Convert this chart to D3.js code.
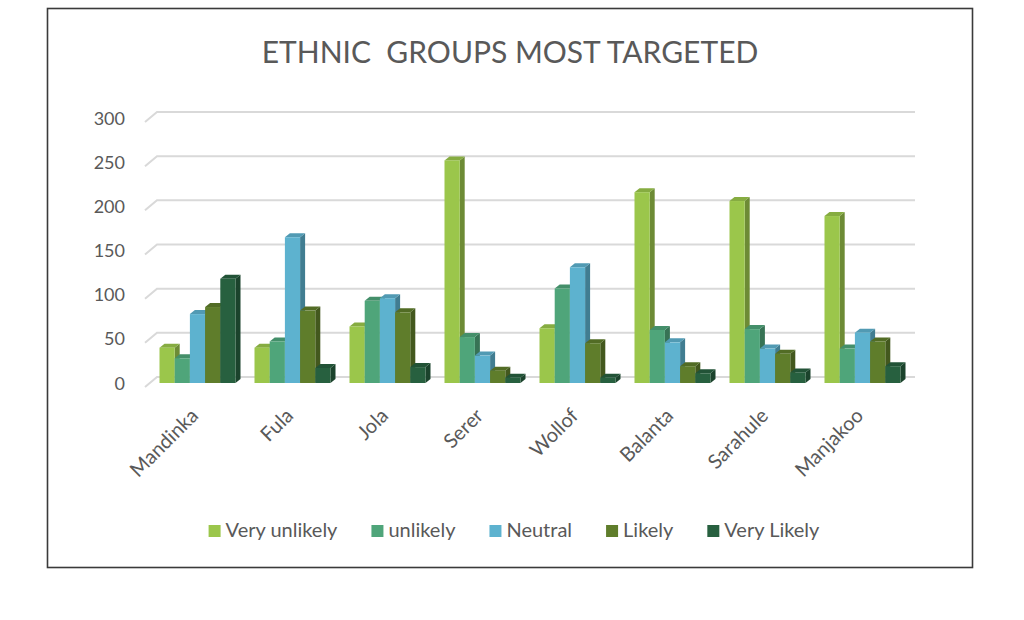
<!DOCTYPE html>
<html>
<head>
<meta charset="utf-8">
<script src="https://cdn.jsdelivr.net/npm/d3@7"></script>
<style>
  body { margin: 0; background: #fff; }
  text { font-family: Lato, "Open Sans", sans-serif; fill: #595959; }
</style>
</head>
<body>
<div id="okvir"></div>
<script>
// podaci
const skupine = ["Mandinka", "Fula", "Jola", "Serer", "Wollof", "Balanta", "Sarahule", "Manjakoo"]
const serije = ["Very unlikely", "unlikely", "Neutral", "Likely", "Very Likely"]
const veryUnlikely = [40, 40, 64, 252, 62, 216, 206, 189]
const unlikely = [28, 47, 93, 52, 107, 60, 61, 39]
const neutral = [78, 165, 96, 31, 131, 46, 39, 57]
const likely = [86, 82, 80, 14, 45, 19, 33, 47]
const veryLikely = [118, 17, 18, 6, 6, 11, 12, 19]
const yTicks = [0, 50, 100, 150, 200, 250, 300]
const boje = ["#9bc64b", "#4fa57a", "#5db2cf", "#5f7d2b", "#27603f"]

const vrijednosti = [veryUnlikely, unlikely, neutral, likely, veryLikely]

const sirina = 1024, visina = 620
const svg = d3.select("#okvir").append("svg")
  .attr("width", sirina)
  .attr("height", visina)

// okvir grafa
svg.append("rect")
  .attr("x", 47.5).attr("y", 8.5)
  .attr("width", 925).attr("height", 559)
  .attr("fill", "none")
  .attr("stroke", "#3a3a3a")
  .attr("stroke-width", 1.6)

svg.append("text")
  .attr("x", 510).attr("y", 63)
  .attr("text-anchor", "middle")
  .style("font-size", "30px")
  .style("white-space", "pre")
  .text("ETHNIC  GROUPS MOST TARGETED")

// skale
const ySkala = d3.scaleLinear().domain([0, 300]).range([383, 118])
const xSkala = d3.scaleBand().domain(skupine).range([150, 910]).paddingInner(0.2).paddingOuter(0.1)
const serSkala = d3.scaleBand().domain(serije).range([0, xSkala.bandwidth()])
const boja = d3.scaleOrdinal().domain(serije).range(boje)

const dubX = 5, dubY = 4   // dubina 3d stupca
const zidX = 157, zidKraj = 915

// mreza (zadnji zid + kosi pod)
const mreza = svg.append("g")
mreza.selectAll("path")
  .data(yTicks)
  .join("path")
  .attr("d", v => `M145,${ySkala(v) + 4} L${zidX},${ySkala(v) - 6} L${zidKraj},${ySkala(v) - 6}`)
  .attr("fill", "none")
  .attr("stroke", "#d9d9d9")
  .attr("stroke-width", 2)

svg.append("g").selectAll("text")
  .data(yTicks)
  .join("text")
  .attr("x", 125)
  .attr("y", v => ySkala(v) + 2)
  .attr("text-anchor", "end")
  .attr("dominant-baseline", "middle")
  .style("font-size", "18px")
  .text(d => d)

// stupci
const tablica = []
skupine.forEach((s, i) => {
  serije.forEach((ser, j) => {
    tablica.push({ skupina: s, serija: ser, v: vrijednosti[j][i] })
  })
})

const stupci = svg.append("g").selectAll("g")
  .data(tablica)
  .join("g")
  .each(function(d) {
    const g = d3.select(this)
    const x0 = xSkala(d.skupina) + serSkala(d.serija)
    const w = serSkala.bandwidth()
    const y0 = ySkala(d.v)
    const y1 = ySkala(0)
    const c = d3.color(boja(d.serija))
    // bocna strana
    g.append("path")
      .attr("d", `M${x0 + w},${y0} L${x0 + w + dubX},${y0 - dubY} L${x0 + w + dubX},${y1 - dubY} L${x0 + w},${y1} Z`)
      .attr("fill", c.darker(1))
    // vrh
    g.append("path")
      .attr("d", `M${x0},${y0} L${x0 + dubX},${y0 - dubY} L${x0 + w + dubX},${y0 - dubY} L${x0 + w},${y0} Z`)
      .attr("fill", c.darker(0.4))
    // prednja strana
    g.append("rect")
      .attr("x", x0).attr("y", y0)
      .attr("width", w).attr("height", y1 - y0)
      .attr("fill", c)
  })

// oznake x osi
svg.append("g").selectAll("text")
  .data(skupine)
  .join("text")
  .attr("text-anchor", "end")
  .attr("transform", d => `translate(${xSkala(d) + xSkala.bandwidth() / 2 + 2},${417}) rotate(-45)`)
  .style("font-size", "20px")
  .text(d => d)

// legenda
const legenda = svg.append("g")
const stavke = legenda.selectAll("g")
  .data(serije)
  .join("g")
stavke.append("rect")
  .attr("width", 12).attr("height", 12)
  .attr("y", -6)
  .attr("fill", d => boja(d))
stavke.append("text")
  .attr("x", 17)
  .attr("y", 1)
  .attr("dominant-baseline", "middle")
  .style("font-size", "20px")
  .text(d => d)

const razmak = 34
let pomak = 0
stavke.each(function() {
  const g = d3.select(this)
  g.attr("transform", `translate(${pomak},531)`)
  pomak += 17 + g.select("text").node().getComputedTextLength() + razmak
})
pomak -= razmak
legenda.attr("transform", `translate(${514 - pomak / 2},0)`)
</script>
</body>
</html>
